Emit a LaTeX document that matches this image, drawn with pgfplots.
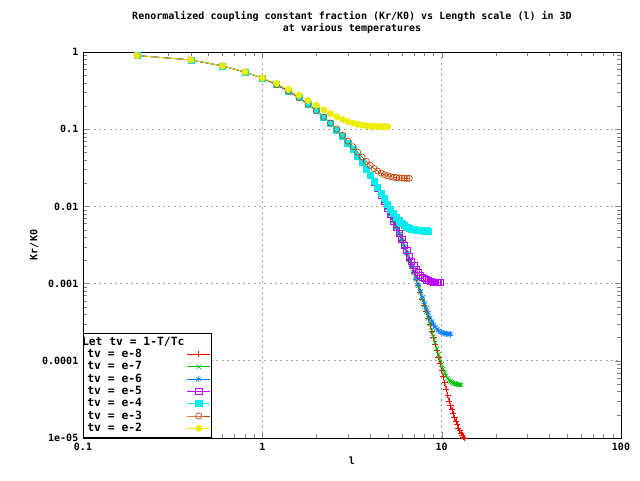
\documentclass[border=0pt]{standalone}
\usepackage{pgfplots}
\pgfplotsset{compat=1.18}
\usepackage{pgfplotstable}
\usepackage{fontspec}
\setmainfont{DejaVu Sans Mono}
\pgfplotstableread{
l r8 r7 r6 r5 r4 r3 r2
0.2 0.9 0.9 0.9 0.9 0.9 0.9 0.9
0.4 0.79 0.79 0.79 0.79 0.79 0.79 0.79
0.6 0.66 0.66 0.66 0.66 0.66 0.66 0.66
0.8 0.55 0.55 0.55 0.55 0.55 0.55 0.55
1.0 0.46 0.46 0.46 0.46 0.46 0.46 0.46
1.2 0.377 0.377 0.377 0.377 0.377 0.377 0.392
1.4 0.310 0.310 0.310 0.310 0.310 0.310 0.328
1.6 0.256 0.256 0.256 0.256 0.256 0.256 0.277
1.8 0.211 0.211 0.211 0.211 0.211 0.211 0.236
2.0 0.174 0.174 0.174 0.174 0.174 0.174 0.204
2.2 0.143 0.143 0.143 0.143 0.143 0.143 0.178
2.4 0.118 0.118 0.118 0.118 0.118 0.1201 0.159
2.6 0.0973 0.0973 0.0973 0.0973 0.0973 0.1000 0.1445
2.8 0.0802 0.0802 0.0802 0.0802 0.0802 0.0834 0.1335
3.0 0.0661 0.0661 0.0661 0.0661 0.0661 0.0700 0.1256
3.2 0.0545 0.0545 0.0545 0.0545 0.0545 0.0592 0.1199
3.4 0.0449 0.0449 0.0449 0.0449 0.0449 0.0505 0.1158
3.6 0.0370 0.0370 0.0370 0.0370 0.0370 0.0436 0.1130
3.8 0.0305 0.0305 0.0305 0.0305 0.0305 0.0382 0.1110
4.0 0.0251 0.0251 0.0251 0.0251 0.02555 0.0340 0.1097
4.2 0.0207 0.0207 0.0207 0.0207 0.02124 0.0309 0.1090
4.4 0.0171 0.0171 0.0171 0.0171 0.01775 0.0287 0.1084
4.6 0.0141 0.0141 0.0141 0.0141 0.0149 0.0270 0.1080
4.8 0.0116 0.0116 0.0116 0.0116 0.01257 0.0258 0.1077
5.0 0.00955 0.00955 0.00955 0.00955 0.01069 0.0249 0.1074
5.2 0.00787 0.00787 0.00787 0.00787 0.00921 0.0243 nan
5.4 0.00648 0.00648 0.00648 0.00648 0.00806 0.0239 nan
5.6 0.00534 0.00534 0.00534 0.00544 0.00718 0.0236 nan
5.8 0.00440 0.00440 0.00440 0.00452 0.00651 0.0234 nan
6.0 0.00363 0.00363 0.00363 0.00377 0.00602 0.0233 nan
6.2 0.00299 0.00299 0.00299 0.00316 0.00565 0.0232 nan
6.4 0.00246 0.00246 0.00246 0.00267 0.00539 0.0231 nan
6.6 0.00203 0.00203 0.00203 0.00228 0.00521 0.0231 nan
6.8 0.00167 0.00167 0.00167 0.00196 0.00508 nan nan
7.0 0.00138 0.00138 0.001397 0.00172 0.00499 nan nan
7.2 0.00114 0.00114 0.001161 0.00154 0.00493 nan nan
7.4 0.000936 0.000936 0.000961 0.00139 0.00489 nan nan
7.6 0.000771 0.000771 0.000801 0.00129 0.00486 nan nan
7.8 0.000635 0.000635 0.000672 0.00121 0.00484 nan nan
8.0 0.000524 0.000524 0.000569 0.00116 0.00483 nan nan
8.2 0.000432 0.000432 0.000485 0.00112 0.00482 nan nan
8.4 0.000356 0.000356 0.000419 0.00109 0.00481 nan nan
8.6 0.000293 0.000297 0.000366 0.00107 nan nan nan
8.8 0.000241 0.000246 0.000326 0.00106 nan nan nan
9.0 0.000199 0.000205 0.000297 0.00105 nan nan nan
9.2 0.000164 0.000171 0.000274 0.00104 nan nan nan
9.4 0.000135 0.000143 0.000258 0.00104 nan nan nan
9.6 0.000111 0.000121 0.000246 0.00103 nan nan nan
9.8 9.17e-5 1.035e-4 0.000238 0.00103 nan nan nan
10.0 7.56e-5 8.96e-5 0.000233 nan nan nan nan
10.2 6.23e-5 7.86e-5 0.000229 nan nan nan nan
10.4 5.19e-5 7.02e-5 0.000226 nan nan nan nan
10.6 4.31e-5 6.40e-5 0.000224 nan nan nan nan
10.8 3.57e-5 5.93e-5 0.000223 nan nan nan nan
11.0 2.98e-5 5.59e-5 0.000222 nan nan nan nan
11.2 2.63e-5 5.42e-5 0.000221 nan nan nan nan
11.4 2.32e-5 5.27e-5 nan nan nan nan nan
11.6 2.06e-5 5.16e-5 nan nan nan nan nan
11.8 1.84e-5 5.08e-5 nan nan nan nan nan
12.0 1.65e-5 5.01e-5 nan nan nan nan nan
12.2 1.49e-5 4.96e-5 nan nan nan nan nan
12.4 1.35e-5 4.92e-5 nan nan nan nan nan
12.6 1.24e-5 4.89e-5 nan nan nan nan nan
12.8 1.15e-5 4.87e-5 nan nan nan nan nan
13.0 1.08e-5 nan nan nan nan nan nan
13.2 1.02e-5 nan nan nan nan nan nan
13.4 1.0e-5 nan nan nan nan nan nan
}\data
\definecolor{gg}{HTML}{00C000}
\definecolor{gb}{HTML}{0080FF}
\definecolor{gp}{HTML}{C000FF}
\definecolor{gc}{HTML}{00EEEE}
\definecolor{go}{HTML}{C04000}
\definecolor{gy}{HTML}{EEEE00}
\begin{document}
\begin{tikzpicture}
\path[use as bounding box,fill=white] (-62.25pt,-31.5pt) rectangle (417.75pt,328.5pt);
\begin{axis}[
  at={(0,0)}, anchor=south west,
  scale only axis, width=403.5pt, height=289.5pt,
  xmode=log, ymode=log,
  xmin=0.1, xmax=100, ymin=1e-5, ymax=1,
  font=\bfseries\fontsize{7.5}{9}\selectfont,
  /pgf/number format/assume math mode=true,
  xtick={0.1,1,10,100}, xticklabels={0.1,1,10,100},
  ytick={1e-5,1e-4,1e-3,1e-2,1e-1,1},
  yticklabels={1e-05,0.0001,0.001,0.01,0.1,1},
  grid=major, major grid style={gray!70, dashed, dash pattern=on 1.5pt off 2.5pt, line width=0.5pt},
  tick align=inside, tick pos=both,
  axis line style={line width=0.6pt},
  xlabel={l}, ylabel={Kr/K0},
  xlabel style={yshift=2pt}, ylabel style={yshift=-4pt},
  title={Renormalized coupling constant fraction (Kr/K0) vs Length scale (l) in 3D\\at various temperatures},
  title style={align=center, yshift=4pt},
  legend style={legend plot pos=right, draw=black, line width=0.6pt, inner sep=1pt,
    row sep=-2.5pt, legend cell align=left, at={(0,0)}, anchor=south west,
    font=\bfseries\fontsize{8.5}{10}\selectfont},
  legend image post style={line width=0.5pt},
  every axis plot/.append style={line width=0.5pt, mark size=2.3pt},
]
\addlegendimage{empty legend}
\addlegendentry{\hspace{-4pt}Let tv = 1-T/Tc}
\addplot[red, mark=+] table[x=l,y=r8]{\data};
\addlegendentry{tv = e-8}
\addplot[gg, mark=x] table[x=l,y=r7]{\data};
\addlegendentry{tv = e-7}
\addplot[gb, mark=asterisk] table[x=l,y=r6]{\data};
\addlegendentry{tv = e-6}
\addplot[gp, mark=square] table[x=l,y=r5]{\data};
\addlegendentry{tv = e-5}
\addplot[gc, mark=square*, mark options={fill=gc}] table[x=l,y=r4]{\data};
\addlegendentry{tv = e-4}
\addplot[go, mark=o] table[x=l,y=r3]{\data};
\addlegendentry{tv = e-3}
\addplot[gy, mark=*, mark options={fill=gy}] table[x=l,y=r2]{\data};
\addlegendentry{tv = e-2}
\end{axis}
\end{tikzpicture}
\end{document}
